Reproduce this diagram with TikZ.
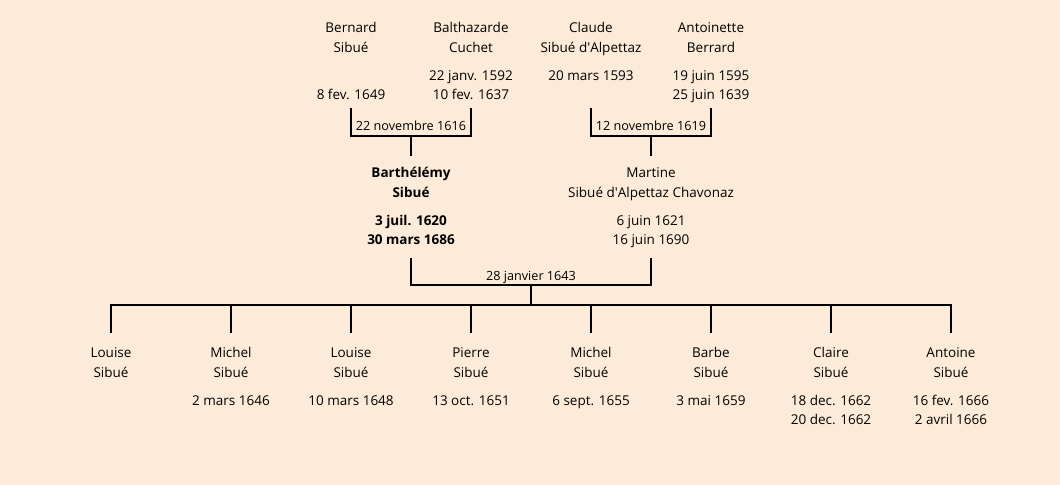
\documentclass[tikz,border=0pt]{standalone}
\usepackage{fontspec}
\setmainfont{Open Sans}
\usetikzlibrary{calc}
\definecolor{parchment}{RGB}{252,235,216}
\newcommand\persfont{\fontsize{9.6pt}{14.17pt}\selectfont}
\newcommand\gap{5.67pt}
% bracket from two partners down to the union label
\newcommand\DrawUnion[4]{% left, right, union node, drop below top
  \draw[link] ($(#1.north)+(0,#4)$) |- ($(#3.base)+(0,5)$) -| ($(#2.north)+(0,#4)$);
}
\tikzset{%
  person/.style={align=center,anchor=north,inner sep=0pt,font=\persfont},
  union/.style={anchor=base,inner sep=0pt,font=\fontsize{9pt}{11pt}\selectfont},
  link/.style={line width=1.4pt}%
}

\begin{document}
\begin{tikzpicture}[x=0.025cm,y=-0.025cm] % one unit = one pixel, y going down

\fill[parchment] (0,0) rectangle (1060,485);
\useasboundingbox (0,0) rectangle (1060,485);

% grandparents
\node[person] (bernard) at (351,18) {\strut Bernard\\Sibué\\[\gap]\strut\\8 fev. 1649};
\node[person] (balthazarde) at (471,18) {\strut Balthazarde\\Cuchet\\[\gap]22 janv. 1592\\10 fev. 1637};
\node[person] (claude) at (591,18) {\strut Claude\\Sibué d\textquotesingle Alpettaz\\[\gap]20 mars 1593\\\strut};
\node[person] (antoinette) at (711,18) {\strut Antoinette\\Berrard\\[\gap]19 juin 1595\\25 juin 1639};

\node[union] (u1) at (411,131) {22 novembre 1616};
\node[union] (u2) at (651,131) {12 novembre 1619};

% parents
\node[person,font=\persfont\bfseries] (barthelemy) at (411,163) {\strut Barthélémy\\Sibué\\[\gap]3 juil. 1620\\30 mars 1686};
\node[person] (martine) at (651,163) {\strut Martine\\Sibué d\textquotesingle Alpettaz Chavonaz\\[\gap]6 juin 1621\\16 juin 1690};

\DrawUnion{bernard}{balthazarde}{u1}{90}
\DrawUnion{claude}{antoinette}{u2}{90}
\draw[link] ($(u1.base)+(0,5)$) -- ($(barthelemy.north)+(0,-7)$);
\draw[link] ($(u2.base)+(0,5)$) -- ($(martine.north)+(0,-7)$);

\node[union] (u3) at (531,280) {28 janvier 1643};
\DrawUnion{barthelemy}{martine}{u3}{95}
\coordinate (kids) at (531,305);
\draw[link] ($(u3.base)+(0,6)$) -- (kids);

% children
\foreach \i/\first/\dob/\dod in {1/Louise/{}/{}, 2/Michel/2 mars 1646/{},
    3/Louise/10 mars 1648/{}, 4/Pierre/13 oct. 1651/{}, 5/Michel/6 sept. 1655/{},
    6/Barbe/3 mai 1659/{}, 7/Claire/18 dec. 1662/20 dec. 1662,
    8/Antoine/16 fev. 1666/2 avril 1666}
  \node[person] (c\i) at ({-9+120*\i},343) {\strut\first\\Sibué\\[\gap]\strut\dob\\\strut\dod};

\draw[link] ($(c1.north)+(0,-10)$) |- (kids) -| ($(c8.north)+(0,-10)$);
\foreach \i in {2,...,7}
  \draw[link] ($(c\i.north)+(0,-10)$) -- ($(c\i.north)+(0,-38)$);

\end{tikzpicture}
\end{document}
